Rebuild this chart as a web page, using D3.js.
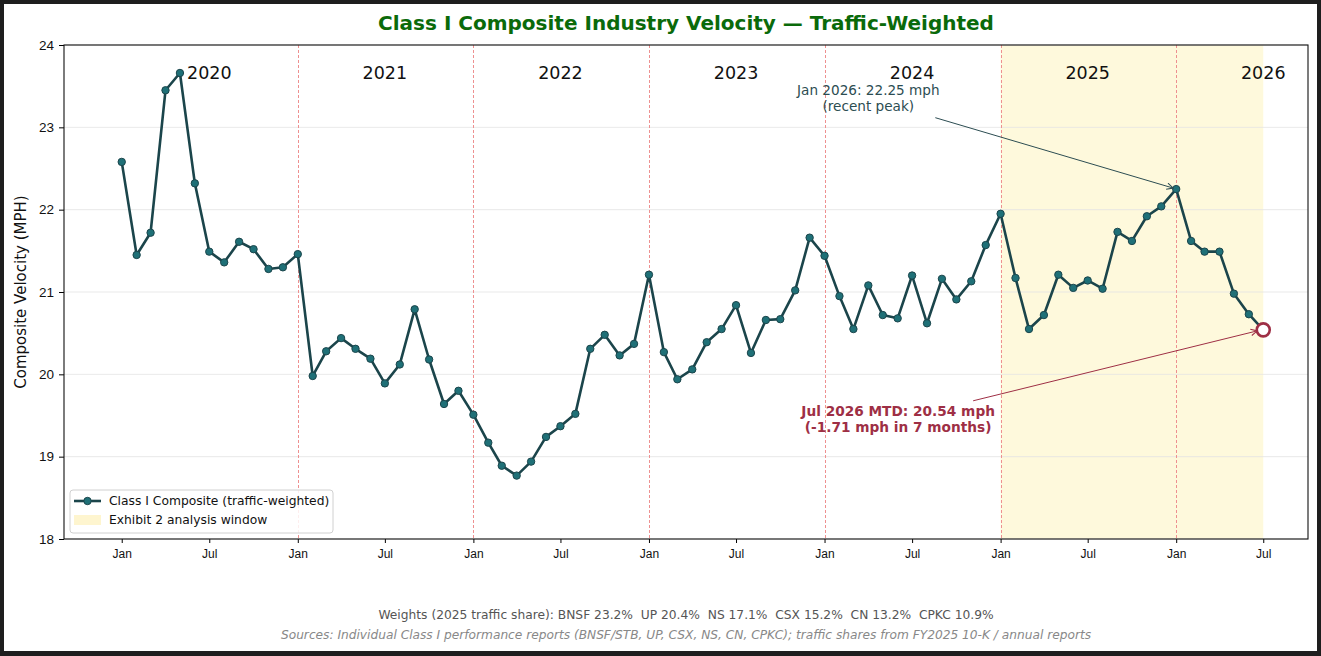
<!DOCTYPE html>
<html>
<head>
<meta charset="utf-8">
<script src="https://cdn.jsdelivr.net/npm/d3@7"></script>
<style>
  html, body { margin: 0; padding: 0; background: #1e1e1e; }
  svg { display: block; font-family: "DejaVu Sans", sans-serif; }
</style>
</head>
<body>
<svg width="1321" height="656"></svg>
<script>
// monthly composite velocity, Jan 2020 .. Jul 2026 (mph)
var startMonth = "2020-01";
var velocity = [
  22.58, 21.45, 21.72, 23.45, 23.66, 22.32, 21.49, 21.36, 21.61, 21.52, 21.28, 21.30,
  21.46, 19.98, 20.28, 20.44, 20.31, 20.19, 19.89, 20.12, 20.79, 20.18, 19.64, 19.80,
  19.51, 19.17, 18.89, 18.77, 18.94, 19.24, 19.37, 19.52, 20.31, 20.48, 20.23, 20.37,
  21.21, 20.27, 19.94, 20.06, 20.39, 20.55, 20.84, 20.26, 20.66, 20.67, 21.02, 21.66,
  21.44, 20.95, 20.55, 21.08, 20.72, 20.68, 21.20, 20.62, 21.16, 20.91, 21.13, 21.57,
  21.95, 21.17, 20.55, 20.72, 21.21, 21.05, 21.14, 21.04, 21.73, 21.62, 21.92, 22.04,
  22.25, 21.62, 21.49, 21.49, 20.98, 20.73, 20.54
];
var years = [2020, 2021, 2022, 2023, 2024, 2025, 2026];
var yTicks = [18, 19, 20, 21, 22, 23, 24];
var windowStart = "2025-01", windowEnd = "2026-07";
var peakMonth = "2026-01", lastMonth = "2026-07";
var weightsText = "Weights (2025 traffic share): BNSF 23.2%\u00a0\u00a0UP 20.4%\u00a0\u00a0NS 17.1%\u00a0\u00a0CSX 15.2%\u00a0\u00a0CN 13.2%\u00a0\u00a0CPKC 10.9%";
var sourcesText = "Sources: Individual Class I performance reports (BNSF/STB, UP, CSX, NS, CN, CPKC); traffic shares from FY2025 10-K / annual reports";

var parseMonth = d3.timeParse("%Y-%m");
var t0 = parseMonth(startMonth);
var data = velocity.map(function(v, i) {
    return { date: d3.timeMonth.offset(t0, i), value: v };
});

var svg = d3.select("svg"),
    width = +svg.attr("width"),
    height = +svg.attr("height");

// white card with dark frame
svg.append("rect").attr("x", 4).attr("y", 4)
    .attr("width", width - 8).attr("height", height - 9)
    .attr("fill", "#fff");

var margin = { left: 64, right: 13, top: 45, bottom: 117 };
var x = d3.scaleTime()
    .domain([new Date(2019, 8, 3), new Date(2026, 9, 2)])
    .range([margin.left, width - margin.right]);
var y = d3.scaleLinear()
    .domain([18, 24])
    .range([height - margin.bottom, margin.top]);

var lineCol = "#1b454b", markCol = "#1f7077", redCol = "#9e2f45";

// analysis window shading
svg.append("rect")
    .attr("x", x(parseMonth(windowStart)))
    .attr("y", y(24))
    .attr("width", x(parseMonth(windowEnd)) - x(parseMonth(windowStart)))
    .attr("height", y(18) - y(24))
    .attr("fill", "#fef9dc");

// grid
svg.append("g").selectAll("line").data(yTicks).enter().append("line")
    .attr("x1", x.range()[0]).attr("x2", x.range()[1])
    .attr("y1", function(d) { return y(d); })
    .attr("y2", function(d) { return y(d); })
    .attr("stroke", "#e3e3e3").attr("stroke-width", 0.8);

// year dividers
svg.append("g").selectAll("line").data(years.slice(1)).enter().append("line")
    .attr("x1", function(d) { return Math.round(x(new Date(d, 0, 1))) + 0.5; })
    .attr("x2", function(d) { return Math.round(x(new Date(d, 0, 1))) + 0.5; })
    .attr("y1", y(24)).attr("y2", y(18))
    .attr("stroke", "#ee9090")
    .attr("stroke-width", 1).attr("stroke-dasharray", "3,2");

// year labels
svg.append("g").selectAll("text").data(years).enter().append("text")
    .attr("x", function(d) { return x(new Date(d, 6, 1)); })
    .attr("y", y(23.66))
    .attr("dy", "0.35em")
    .attr("text-anchor", "middle")
    .style("font-size", "17.5px")
    .attr("fill", "#111")
    .text(function(d) { return d; });

// axes
var xAxis = d3.axisBottom(x)
    .tickValues(d3.timeMonth.every(6).range(t0, d3.timeMonth.offset(parseMonth(lastMonth), 1)))
    .tickFormat(d3.timeFormat("%b"))
    .tickSize(4).tickPadding(6);
var gx = svg.append("g").attr("transform", "translate(0," + y(18) + ")").call(xAxis);
gx.select(".domain").remove();
gx.selectAll("text").style("font-size", "12px").attr("fill", "#111");

var yAxis = d3.axisLeft(y).tickValues(yTicks).tickFormat(d3.format("d")).tickSize(5).tickPadding(5);
var gy = svg.append("g").attr("transform", "translate(" + x.range()[0] + ",0)").call(yAxis);
gy.select(".domain").remove();
gy.selectAll("text").style("font-size", "13.5px").attr("fill", "#111");

// frame
svg.append("rect")
    .attr("x", x.range()[0]).attr("y", y(24))
    .attr("width", x.range()[1] - x.range()[0]).attr("height", y(18) - y(24))
    .attr("fill", "none").attr("stroke", "#111").attr("stroke-width", 1.1);

// series
var line = d3.line()
    .x(function(d) { return x(d.date); })
    .y(function(d) { return y(d.value); });

svg.append("path").datum(data)
    .attr("d", line)
    .attr("fill", "none").attr("stroke", lineCol)
    .attr("stroke-width", 2.6).attr("stroke-linejoin", "round");

svg.append("g").selectAll("circle").data(data.slice(0, -1)).enter().append("circle")
    .attr("cx", function(d) { return x(d.date); })
    .attr("cy", function(d) { return y(d.value); })
    .attr("r", 3.7)
    .attr("fill", markCol).attr("stroke", lineCol).attr("stroke-width", 1);

var last = data[data.length - 1];
svg.append("circle")
    .attr("cx", x(last.date)).attr("cy", y(last.value))
    .attr("r", 6.5)
    .attr("fill", "#fff").attr("stroke", redCol).attr("stroke-width", 2.6);

// arrowheads
var defs = svg.append("defs");
function arrowMarker(id, col) {
    defs.append("marker").attr("id", id)
        .attr("viewBox", "0 0 10 10").attr("refX", 9).attr("refY", 5)
        .attr("markerWidth", 8).attr("markerHeight", 8)
        .attr("markerUnits", "userSpaceOnUse")
        .attr("orient", "auto")
        .append("path").attr("d", "M1,1 L9,5 L1,9")
        .attr("fill", "none").attr("stroke", col).attr("stroke-width", 1.3);
}
arrowMarker("arrPeak", "#2c4d52");
arrowMarker("arrLast", redCol);

// peak annotation
var peak = data.filter(function(d) { return +d.date === +parseMonth(peakMonth); })[0];
var pTx = x(new Date(2024, 3, 1)), pTy = y(23.36);
var annPeak = svg.append("text")
    .attr("x", pTx).attr("y", pTy - 3)
    .attr("text-anchor", "middle")
    .style("font-size", "13.6px").attr("fill", "#2c4d52");
annPeak.append("tspan").attr("x", pTx).attr("dy", 0).text("Jan 2026: " + peak.value.toFixed(2) + " mph");
annPeak.append("tspan").attr("x", pTx).attr("dy", "1.2em").text("(recent peak)");
svg.append("line")
    .attr("x1", pTx + 67).attr("y1", pTy + 20)
    .attr("x2", x(peak.date) - 3).attr("y2", y(peak.value) - 1)
    .attr("stroke", "#2c4d52").attr("stroke-width", 1)
    .attr("marker-end", "url(#arrPeak)");

// latest annotation
var drop = last.value - peak.value;
var lTx = x(new Date(2024, 5, 2)), lTy = y(19.46);
var annLast = svg.append("text")
    .attr("x", lTx).attr("y", lTy - 3)
    .attr("text-anchor", "middle")
    .style("font-size", "13.7px").style("font-weight", "bold").attr("fill", redCol);
annLast.append("tspan").attr("x", lTx).attr("dy", 0).text("Jul 2026 MTD: " + last.value.toFixed(2) + " mph");
annLast.append("tspan").attr("x", lTx).attr("dy", "1.2em").text("(" + drop.toFixed(2) + " mph in 7 months)");
svg.append("line")
    .attr("x1", lTx + 75).attr("y1", lTy - 18)
    .attr("x2", x(last.date) - 6).attr("y2", y(last.value) + 1)
    .attr("stroke", redCol).attr("stroke-width", 1)
    .attr("marker-end", "url(#arrLast)");

// legend
var lg = svg.append("g").attr("transform", "translate(70,490)");
lg.append("rect").attr("width", 263).attr("height", 43).attr("rx", 3)
    .attr("fill", "#fff").attr("fill-opacity", 0.85)
    .attr("stroke", "#d0d0d0").attr("stroke-width", 1);
lg.append("line").attr("x1", 4).attr("x2", 31).attr("y1", 11).attr("y2", 11)
    .attr("stroke", lineCol).attr("stroke-width", 2.6);
lg.append("circle").attr("cx", 17.5).attr("cy", 11).attr("r", 3.7)
    .attr("fill", markCol).attr("stroke", lineCol);
lg.append("rect").attr("x", 4).attr("y", 25).attr("width", 27).attr("height", 10)
    .attr("fill", "#fef5cf");
lg.append("text").attr("x", 39).attr("y", 11).attr("dy", "0.35em")
    .style("font-size", "12.3px").attr("fill", "#111")
    .text("Class I Composite (traffic-weighted)");
lg.append("text").attr("x", 39).attr("y", 30).attr("dy", "0.35em")
    .style("font-size", "12.3px").attr("fill", "#111")
    .text("Exhibit 2 analysis window");

// titles
svg.append("text")
    .attr("x", (x.range()[0] + x.range()[1]) / 2).attr("y", 30)
    .attr("text-anchor", "middle")
    .style("font-size", "20px").style("font-weight", "bold")
    .attr("fill", "#0a6a0a")
    .text("Class I Composite Industry Velocity \u2014 Traffic-Weighted");

svg.append("text")
    .attr("transform", "translate(26," + ((y(18) + y(24)) / 2) + ") rotate(-90)")
    .attr("text-anchor", "middle")
    .style("font-size", "15px").attr("fill", "#111")
    .text("Composite Velocity (MPH)");

svg.append("text")
    .attr("x", 686).attr("y", 619)
    .attr("text-anchor", "middle")
    .style("font-size", "12.25px").attr("fill", "#555")
    .text(weightsText);
svg.append("text")
    .attr("x", 686).attr("y", 639)
    .attr("text-anchor", "middle")
    .style("font-size", "12.2px").style("font-style", "italic").attr("fill", "#888")
    .text(sourcesText);
</script>
</body>
</html>
